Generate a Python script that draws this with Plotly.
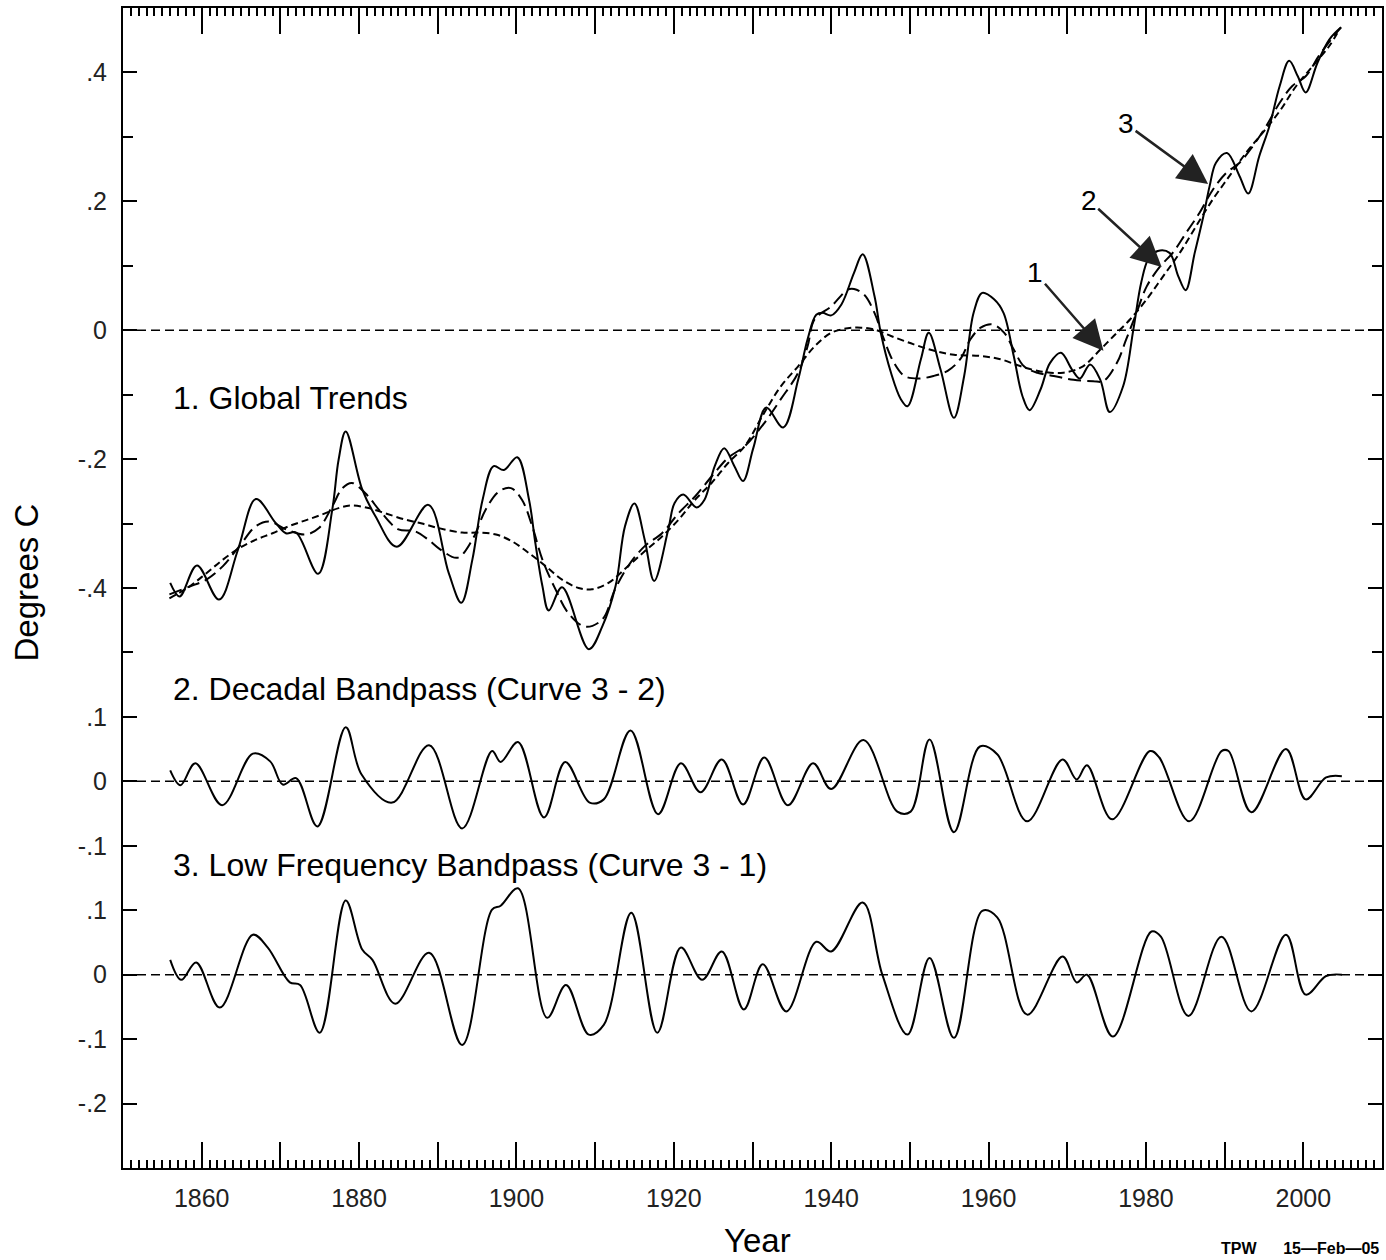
import plotly.graph_objects as go

# ---------------------------------------------------------------
# Curve 3: lightly smoothed global temperature (solid)
# ---------------------------------------------------------------
global_years = [
    1856.0, 1857.2, 1859.4, 1862.2, 1864.6, 1866.9, 1869.4, 1870.7, 1872.0, 1874.8,
    1876.6, 1877.4, 1878.3, 1880.4, 1882.1, 1884.8, 1888.8, 1891.4, 1893.0, 1894.4,
    1895.7, 1897.1, 1898.4, 1900.1, 1901.6, 1902.4, 1903.3, 1904.1, 1905.8, 1909.2,
    1910.9, 1912.6, 1913.8, 1915.0, 1916.3, 1917.5, 1919.3, 1920.1, 1921.2, 1922.9,
    1923.9, 1925.2, 1926.4, 1927.7, 1928.8, 1930.1, 1931.75, 1933.9, 1935.8, 1937.0,
    1938.1, 1938.9, 1940.0, 1941.3, 1942.9, 1944.0, 1945.5, 1946.3, 1947.6, 1948.85,
    1949.7, 1951.4, 1952.4, 1953.9, 1955.6, 1956.9, 1958.1, 1959.2, 1960.7, 1961.9,
    1963.2, 1964.3, 1965.2, 1966.6, 1967.8, 1969.2, 1970.6, 1971.6, 1972.9, 1974.2,
    1975.4, 1977.1, 1978.4, 1979.4, 1980.3, 1981.5, 1983.0, 1984.1, 1985.05, 1986.2,
    1987.3, 1988.1, 1988.9, 1990.3, 1991.9, 1993.0, 1994.4, 1995.7, 1997.0, 1998.2,
    1999.3, 2000.3, 2001.8, 2003.3, 2004.8,
]
global_vals = [
    -0.392, -0.413, -0.365, -0.418, -0.341, -0.262, -0.299, -0.315, -0.314, -0.378,
    -0.278, -0.201, -0.157, -0.247, -0.289, -0.336, -0.271, -0.377, -0.423, -0.356,
    -0.263, -0.211, -0.217, -0.197, -0.263, -0.330, -0.397, -0.435, -0.399, -0.495,
    -0.460, -0.397, -0.304, -0.269, -0.325, -0.389, -0.309, -0.268, -0.255, -0.275,
    -0.263, -0.211, -0.183, -0.211, -0.234, -0.183, -0.120, -0.151, -0.077, -0.014,
    0.024, 0.027, 0.023, 0.040, 0.089, 0.118, 0.053, -0.004, -0.066, -0.107,
    -0.118, -0.045, -0.004, -0.061, -0.136, -0.071, 0.027, 0.058, 0.048, 0.027,
    -0.040, -0.102, -0.124, -0.092, -0.051, -0.035, -0.061, -0.075, -0.053, -0.077,
    -0.127, -0.087, 0.001, 0.074, 0.110, 0.123, 0.120, 0.084, 0.062, 0.120,
    0.177, 0.224, 0.260, 0.275, 0.239, 0.212, 0.270, 0.317, 0.379, 0.418,
    0.394, 0.369, 0.415, 0.451, 0.470,
]

# ---------------------------------------------------------------
# Curve 2: decadal low-pass (long dashes)
# ---------------------------------------------------------------
decadal_lp_years = [
    1855.9, 1858.4, 1860.6, 1862.7, 1864.8, 1866.9, 1868.6, 1870.7, 1873.2, 1874.9,
    1876.6, 1877.9, 1879.1, 1880.8, 1882.9, 1885.0, 1887.1, 1888.8, 1890.3, 1892.5,
    1894.4, 1896.1, 1897.8, 1899.3, 1900.7, 1902.0, 1903.3, 1905.0, 1906.6, 1908.75,
    1910.9, 1912.5, 1914.2, 1916.3, 1918.5, 1920.6, 1922.7, 1924.8, 1926.9, 1929.0,
    1931.5, 1933.6, 1935.8, 1937.0, 1937.9, 1940.0, 1942.1, 1942.9, 1944.2, 1945.5,
    1946.7, 1948.0, 1949.3, 1951.0, 1953.0, 1954.8, 1956.4, 1957.7, 1959.0, 1960.5,
    1962.0, 1963.2, 1964.5, 1966.2, 1968.3, 1970.8, 1973.3, 1974.6, 1976.3, 1977.5,
    1978.8, 1980.1, 1981.8, 1983.4, 1985.1, 1986.8, 1988.5, 1990.2, 1991.9, 1993.6,
    1995.3, 1997.0, 1998.6, 2000.3, 2002.0, 2003.7, 2004.8,
]
decadal_lp_vals = [
    -0.410, -0.398, -0.387, -0.366, -0.335, -0.304, -0.297, -0.309, -0.317, -0.307,
    -0.273, -0.245, -0.237, -0.253, -0.284, -0.309, -0.312, -0.325, -0.340, -0.353,
    -0.325, -0.278, -0.250, -0.245, -0.263, -0.304, -0.356, -0.403, -0.439, -0.460,
    -0.449, -0.403, -0.366, -0.335, -0.315, -0.284, -0.258, -0.227, -0.198, -0.180,
    -0.144, -0.107, -0.066, -0.025, 0.017, 0.037, 0.063, 0.064, 0.055, 0.027,
    -0.014, -0.051, -0.071, -0.075, -0.071, -0.063, -0.045, -0.014, 0.004, 0.009,
    -0.004, -0.030, -0.056, -0.066, -0.071, -0.077, -0.079, -0.079, -0.051, -0.014,
    0.027, 0.068, 0.099, 0.120, 0.151, 0.182, 0.218, 0.244, 0.260, 0.286,
    0.317, 0.353, 0.379, 0.394, 0.426, 0.454, 0.470,
]

# ---------------------------------------------------------------
# Curve 1: low-frequency trend (short dashes)
# ---------------------------------------------------------------
trend_years = [
    1855.9, 1858.4, 1860.6, 1862.7, 1864.8, 1866.9, 1869.0, 1871.1, 1873.2, 1875.3,
    1877.4, 1879.1, 1881.2, 1883.3, 1885.9, 1888.0, 1890.1, 1893.1, 1895.2, 1897.4,
    1899.5, 1901.6, 1903.7, 1905.8, 1907.9, 1909.6, 1911.7, 1914.2, 1916.3, 1918.5,
    1920.6, 1922.7, 1924.8, 1926.9, 1929.0, 1931.5, 1933.6, 1935.8, 1937.9, 1940.0,
    1942.1, 1943.8, 1945.5, 1947.6, 1950.5, 1953.1, 1955.6, 1959.0, 1961.5, 1964.1,
    1966.6, 1969.5, 1972.0, 1974.2, 1975.9, 1978.0, 1980.1, 1982.2, 1984.3, 1986.4,
    1988.5, 1990.6, 1992.7, 1994.8, 1997.0, 1999.1, 2001.2, 2003.3, 2004.6,
]
trend_vals = [
    -0.416, -0.398, -0.377, -0.356, -0.338, -0.325, -0.315, -0.304, -0.295, -0.286,
    -0.276, -0.272, -0.276, -0.284, -0.294, -0.300, -0.307, -0.314, -0.314, -0.317,
    -0.328, -0.346, -0.366, -0.387, -0.400, -0.402, -0.392, -0.366, -0.343, -0.320,
    -0.294, -0.263, -0.237, -0.206, -0.180, -0.128, -0.087, -0.056, -0.025, -0.004,
    0.003, 0.004, 0.001, -0.009, -0.022, -0.032, -0.038, -0.040, -0.045, -0.056,
    -0.064, -0.066, -0.056, -0.030, -0.009, 0.017, 0.048, 0.084, 0.120, 0.162,
    0.203, 0.239, 0.275, 0.306, 0.340, 0.379, 0.410, 0.441, 0.467,
]

# ---------------------------------------------------------------
# Decadal bandpass (curve 3 - curve 2)
# ---------------------------------------------------------------
decadal_bp_years = [
    1856.0, 1857.3, 1859.2, 1862.6, 1866.5, 1868.7, 1870.3, 1872.0, 1874.7, 1878.3,
    1880.3, 1884.2, 1888.9, 1893.1, 1896.9, 1898.0, 1900.2, 1903.5, 1906.2, 1909.3,
    1911.1, 1914.5, 1918.0, 1920.9, 1923.4, 1926.1, 1928.8, 1931.5, 1934.5, 1937.7,
    1940.0, 1944.1, 1948.4, 1950.1, 1952.5, 1955.6, 1958.9, 1961.1, 1964.9, 1969.4,
    1971.2, 1972.5, 1975.7, 1980.5, 1981.7, 1985.5, 1989.6, 1990.5, 1993.4, 1997.8,
    2000.3, 2002.9, 2004.9,
]
decadal_bp_vals = [
    0.017, -0.006, 0.028, -0.037, 0.043, 0.031, -0.005, 0.005, -0.070, 0.084,
    0.011, -0.033, 0.056, -0.073, 0.047, 0.030, 0.061, -0.056, 0.030, -0.033,
    -0.028, 0.079, -0.051, 0.028, -0.017, 0.034, -0.036, 0.037, -0.037, 0.028,
    -0.012, 0.064, -0.047, -0.047, 0.065, -0.079, 0.054, 0.042, -0.062, 0.034,
    0.003, 0.025, -0.059, 0.047, 0.037, -0.062, 0.047, 0.047, -0.048, 0.050,
    -0.028, 0.006, 0.008,
]

# ---------------------------------------------------------------
# Low-frequency bandpass (curve 3 - curve 1)
# ---------------------------------------------------------------
lowfreq_bp_years = [
    1856.0, 1857.4, 1859.3, 1862.3, 1866.5, 1868.4, 1871.2, 1872.5, 1875.0, 1878.3,
    1880.4, 1881.7, 1884.6, 1888.9, 1893.1, 1896.9, 1898.0, 1900.2, 1903.9, 1906.3,
    1909.2, 1911.1, 1914.6, 1917.9, 1920.9, 1923.6, 1926.1, 1928.9, 1931.3, 1934.3,
    1938.1, 1940.0, 1944.0, 1946.5, 1949.7, 1952.5, 1955.6, 1959.2, 1961.1, 1964.9,
    1969.4, 1971.2, 1972.5, 1975.8, 1980.7, 1981.9, 1985.4, 1989.6, 1993.4, 1997.8,
    2000.3, 2002.9, 2004.9,
]
lowfreq_bp_vals = [
    0.023, -0.008, 0.019, -0.051, 0.062, 0.042, -0.012, -0.016, -0.090, 0.115,
    0.039, 0.023, -0.045, 0.034, -0.109, 0.101, 0.107, 0.134, -0.067, -0.016,
    -0.093, -0.078, 0.096, -0.090, 0.042, -0.008, 0.036, -0.054, 0.016, -0.057,
    0.051, 0.036, 0.112, 0.000, -0.093, 0.026, -0.098, 0.099, 0.089, -0.062,
    0.028, -0.012, 0.000, -0.096, 0.067, 0.059, -0.064, 0.059, -0.057, 0.062,
    -0.031, -0.002, 0.000,
]

# Vertical baselines of the three stacked panels (shared degree scale)
TOP_BASE = 0.0
MID_BASE = -0.7
LOW_BASE = -1.0

top_ticks = [0.4, 0.2, 0.0, -0.2, -0.4]
mid_ticks = [0.1, 0.0, -0.1]
low_ticks = [0.1, 0.0, -0.1, -0.2]

year_ticks = list(range(1850, 2011, 10))
year_labels = [str(y) if (y % 20 == 0 and 1850 < y < 2010) else "" for y in year_ticks]

FONT = "Liberation Sans, Arial, Helvetica, sans-serif"


def fmt_tick(v):
    """Format like '.4', '-.2', '0'."""
    if abs(v) < 1e-9:
        return "0"
    s = f"{abs(v):.1f}".lstrip("0")
    return ("-" if v < 0 else "") + s


def shift(vals, base):
    return [v + base for v in vals]


tickvals, ticktext = [], []
for ticks, base in ((top_ticks, TOP_BASE), (mid_ticks, MID_BASE), (low_ticks, LOW_BASE)):
    for t in ticks:
        tickvals.append(round(t + base, 6))
        ticktext.append(fmt_tick(t))

fig = go.Figure()

# zero reference lines of each panel
for base in (TOP_BASE, MID_BASE, LOW_BASE):
    fig.add_hline(y=base, line=dict(color="black", width=1.5, dash="9px,5px"))

line_common = dict(color="black", shape="spline", smoothing=1.0)

fig.add_trace(go.Scatter(x=trend_years, y=shift(trend_vals, TOP_BASE), mode="lines",
                         line=dict(width=2, dash="7px,4px", **line_common),
                         name="1", showlegend=False, hoverinfo="skip"))
fig.add_trace(go.Scatter(x=decadal_lp_years, y=shift(decadal_lp_vals, TOP_BASE), mode="lines",
                         line=dict(width=2, dash="13px,6px", **line_common),
                         name="2", showlegend=False, hoverinfo="skip"))
fig.add_trace(go.Scatter(x=global_years, y=shift(global_vals, TOP_BASE), mode="lines",
                         line=dict(width=2, **line_common),
                         name="3", showlegend=False, hoverinfo="skip"))
fig.add_trace(go.Scatter(x=decadal_bp_years, y=shift(decadal_bp_vals, MID_BASE), mode="lines",
                         line=dict(width=2, **line_common),
                         name="Decadal Bandpass", showlegend=False, hoverinfo="skip"))
fig.add_trace(go.Scatter(x=lowfreq_bp_years, y=shift(lowfreq_bp_vals, LOW_BASE), mode="lines",
                         line=dict(width=2, **line_common),
                         name="Low Frequency Bandpass", showlegend=False, hoverinfo="skip"))

annotations = [
    dict(text="1. Global Trends", x=0.0381, y=0.6638, xanchor="left", yanchor="middle",
         font=dict(size=32)),
    dict(text="2. Decadal Bandpass (Curve 3 - 2)", x=0.0381, y=0.4128, xanchor="left",
         yanchor="middle", font=dict(size=32)),
    dict(text="3. Low Frequency Bandpass (Curve 3 - 1)", x=0.0381, y=0.2612, xanchor="left",
         yanchor="middle", font=dict(size=32)),
    dict(text="Degrees C", x=-0.0765, y=0.5045, xanchor="center", yanchor="middle",
         textangle=-90, font=dict(size=33)),
    dict(text="Year", x=0.5037, y=-0.0625, xanchor="center", yanchor="middle",
         font=dict(size=33)),
    dict(text="<b>TPW&nbsp;&nbsp;&nbsp;&nbsp;&nbsp;&nbsp;15—Feb—05</b>", x=0.9993, y=-0.0694,
         xanchor="right", yanchor="middle", font=dict(size=16)),
]
for a in annotations:
    a.update(xref="paper", yref="paper", showarrow=False)
    a["font"] = dict(family=FONT, color="black", **a["font"])

# numbered arrows pointing at the three curves
for label, tx, ty, ax, ay in (("1", 1974.6, -0.032, -68, -78),
                              ("2", 1982.0, 0.098, -73, -67),
                              ("3", 1987.9, 0.227, -82, -60)):
    annotations.append(dict(
        text=label, x=tx, y=ty, xref="x", yref="y", ax=ax, ay=ay,
        showarrow=True, arrowhead=2, arrowsize=2.4, arrowwidth=2.5, arrowcolor="#222",
        standoff=0, font=dict(family=FONT, size=28, color="black"),
    ))

fig.update_layout(
    width=1386, height=1260,
    margin=dict(l=123, r=2, t=8, b=92),
    paper_bgcolor="white", plot_bgcolor="white",
    font=dict(family=FONT, color="black"),
    annotations=annotations,
    showlegend=False,
)

fig.update_xaxes(
    range=[1850, 2010], tickmode="array", tickvals=year_ticks, ticktext=year_labels,
    ticks="inside", ticklen=26, tickwidth=1.5, tickcolor="black",
    showline=True, linewidth=2, linecolor="black", mirror="allticks",
    showgrid=False, zeroline=False, tickfont=dict(size=25, family=FONT, color="#222"),
    ticklabelstandoff=7,
    minor=dict(ticks="inside", ticklen=8, tickwidth=1.5, tickcolor="black",
               tickmode="linear", tick0=1850, dtick=1, showgrid=False),
)
fig.update_yaxes(
    range=[-1.3, 0.5], tickmode="array", tickvals=tickvals, ticktext=ticktext,
    ticks="inside", ticklen=14, tickwidth=1.5, tickcolor="black",
    showline=True, linewidth=2, linecolor="black", mirror="allticks",
    showgrid=False, zeroline=False, tickfont=dict(size=25, family=FONT, color="#222"),
    ticklabelstandoff=9,
    minor=dict(ticks="inside", ticklen=10, tickwidth=1.5, tickcolor="black",
               tickmode="linear", tick0=0, dtick=0.1, showgrid=False),
)

fig.write_html("out.html")
